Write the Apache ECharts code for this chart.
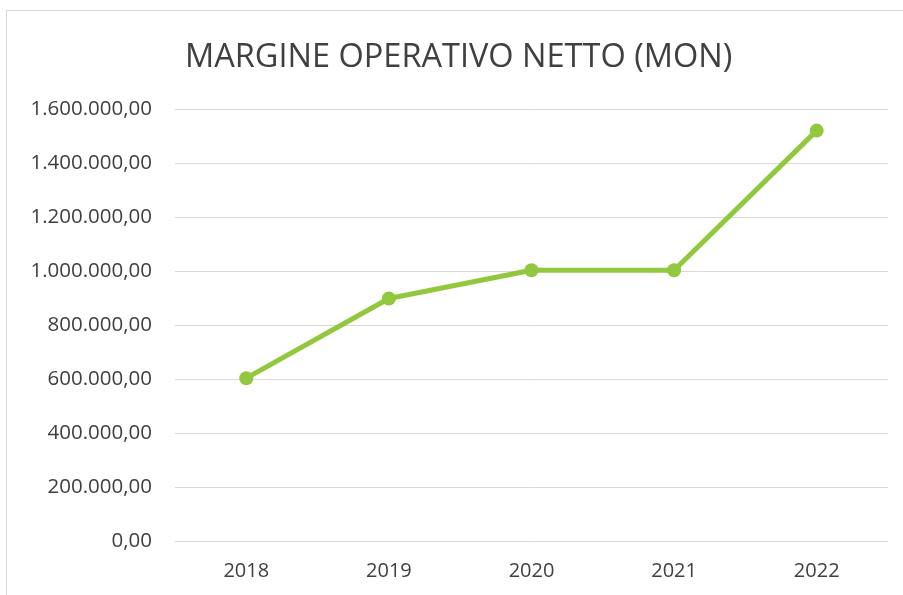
<!DOCTYPE html>
<html>
<head>
<meta charset="utf-8">
<script src="https://cdn.jsdelivr.net/npm/echarts@6/dist/echarts.min.js"></script>
<style>
    html, body {margin:0;padding:0;background:#fff;}
    #frame {position:absolute;left:6px;top:10px;width:920px;height:600px;border-left:1px solid #d9d9d9;border-top:1px solid #d9d9d9;}
    #chart {position:absolute;left:0;top:0;width:903px;height:595px;}
</style>
</head>
<body>
<div id="frame"></div>
<div id="chart"></div>
<script>
    // dati
    var anni = ['2018', '2019', '2020', '2021', '2022'];
    var mon = [603000, 898000, 1003000, 1003000, 1520000];
    var yMin = 0, yMax = 1600000, yStep = 200000;

    function fmt(v) {
        var s = Math.round(v).toString().replace(/\B(?=(\d{3})+(?!\d))/g, '.');
        return s + ',00';
    }

    var myChart = echarts.init(document.getElementById('chart'));
    var option = {
        animation: false,
        title: {
            text: 'MARGINE OPERATIVO NETTO (MON)',
            left: 180,
            top: 36,
            textStyle: {
                fontFamily: 'Open Sans',
                fontSize: 32.5,
                fontWeight: 'normal',
                color: '#404040'
            }
        },
        grid: {
            left: 175,
            right: 15,
            top: 109,
            bottom: 54
        },
        xAxis: {
            type: 'category',
            data: anni,
            boundaryGap: true,
            axisLine: {show: false},
            axisTick: {show: false},
            axisLabel: {
                color: '#404040',
                fontFamily: 'Open Sans',
                fontSize: 20,
                margin: 20
            }
        },
        yAxis: {
            type: 'value',
            min: yMin,
            max: yMax,
            interval: yStep,
            axisLine: {show: false},
            axisTick: {show: false},
            splitLine: {lineStyle: {color: '#d9d9d9', width: 1}},
            axisLabel: {
                color: '#404040',
                fontFamily: 'Open Sans',
                fontSize: 20.5,
                margin: 23,
                formatter: fmt
            }
        },
        series: [{
            type: 'line',
            data: mon,
            symbol: 'circle',
            symbolSize: 14,
            lineStyle: {color: '#92C83E', width: 5},
            itemStyle: {color: '#92C83E'}
        }]
    };
    myChart.setOption(option);
</script>
</body>
</html>
